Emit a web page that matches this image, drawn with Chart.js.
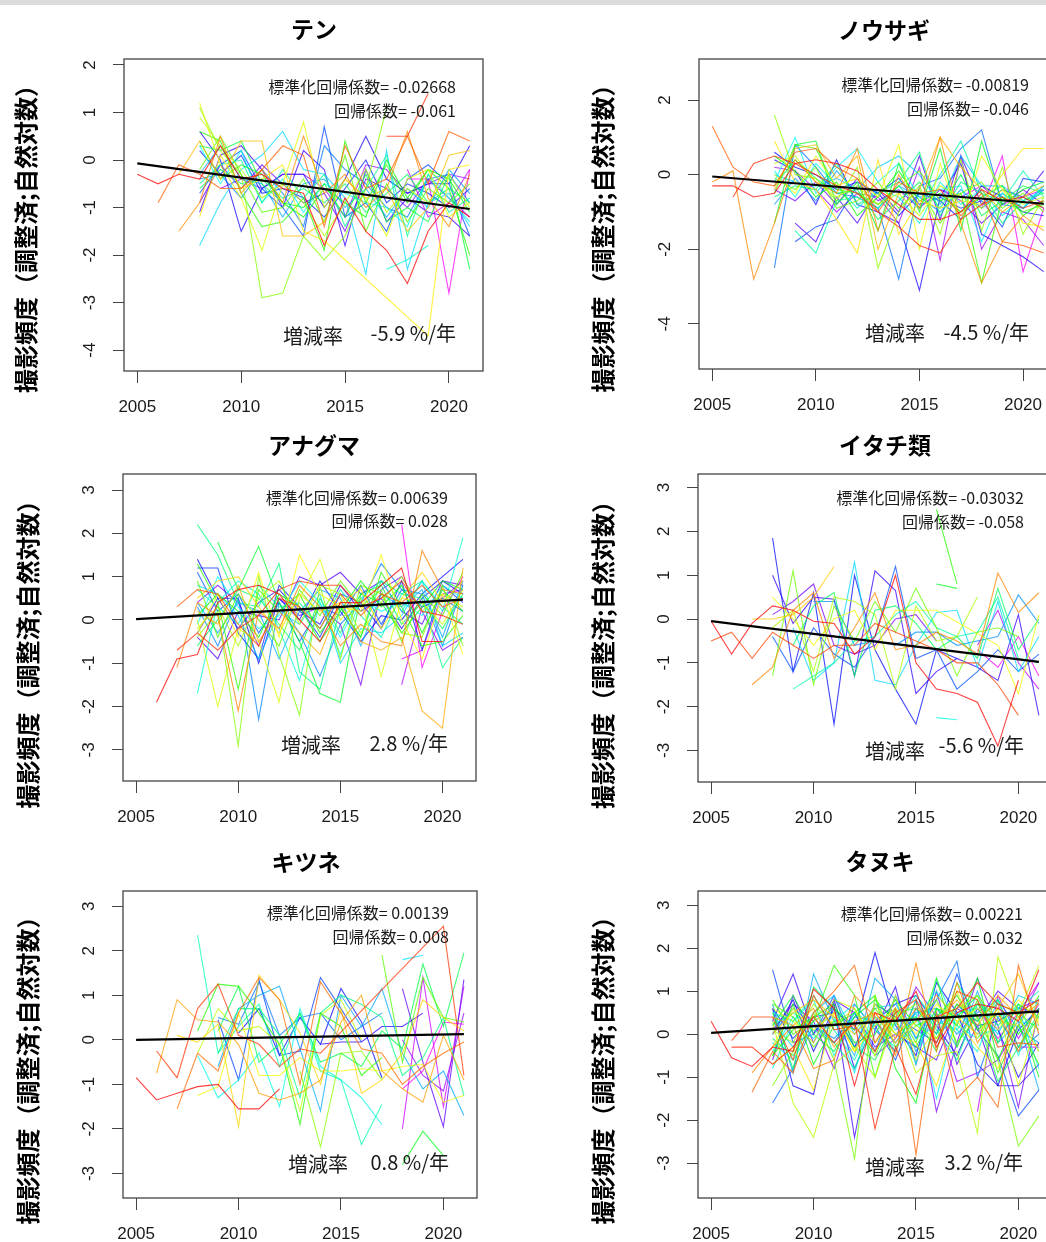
<!DOCTYPE html>
<html><head><meta charset="utf-8">
<script src="https://cdn.jsdelivr.net/npm/chart.js@4.4.1/dist/chart.umd.min.js"></script>
<style>
html,body{margin:0;padding:0;width:1046px;height:1242px;overflow:hidden;background:#fff;}
#bar{position:absolute;left:0;top:0;width:1046px;height:5px;background:#dcdcdc;}
canvas{position:absolute;}
</style></head><body>
<div id="bar"></div>
<canvas id="c0"></canvas><canvas id="c1"></canvas><canvas id="c2"></canvas>
<canvas id="c3"></canvas><canvas id="c4"></canvas><canvas id="c5"></canvas>
<script>
const N = null;
const years = [2005,2006,2007,2008,2009,2010,2011,2012,2013,2014,2015,2016,2017,2018,2019,2020,2021];
const xTicks = [2005,2010,2015,2020];
const titles = ['テン','ノウサギ','アナグマ','イタチ類','キツネ','タヌキ'];
const yLabel = '撮影頻度（調整済;自然対数）';
const yTicksTen = [-4,-3,-2,-1,0,1,2];
const yTicksUsagi = [-4,-2,0,2];
const yTicksOther = [-3,-2,-1,0,1,2,3];
const stdCoefs = ['-0.02668','-0.00819','0.00639','-0.03032','0.00139','0.00221'];
const coefs = ['-0.061','-0.046','0.028','-0.058','0.008','0.032'];
const rates = ['-5.9','-4.5','2.8','-5.6','0.8','3.2'];
// regression line values at 2005 and 2021
const trendTen = [-0.07,-1.03];
const trendUsagi = [-0.05,-0.78];
const trendAnaguma = [0.02,0.47];
const trendItachi = [-0.05,-0.98];
const trendKitsune = [0.0,0.13];
const trendTanuki = [0.03,0.53];

const seriesTen = [
 [-0.3,-0.5,-0.3,-0.4,0.3,-0.4,-0.3,-0.6,-0.7,-1.8,-0.8,-1.5,-1.9,-2.6,-1.5,-0.9,-1.2],
 [N,N,N,N,N,N,N,N,N,N,N,N,0.5,0.5,1.4,N,N],
 [N,-0.9,-0.1,-0.3,-0.6,-0.6,-0.2,0.3,0.1,-1.4,0.3,-0.6,-0.4,0.5,-0.5,0.6,0.4],
 [N,N,-1.5,-0.9,0.5,-0.7,-0.2,-0.9,0.5,-0.7,-0.3,-1.0,-0.6,0.6,-0.8,-1.4,-0.3],
 [N,N,-0.3,0.4,-0.4,0.4,0.4,-1.6,-1.6,-1.3,-0.4,-0.8,-0.6,-1.5,-1.0,0.1,0.2],
 [N,N,N,-1.2,0.1,-0.6,-0.4,-0.1,-1.5,-1.7,N,N,N,N,-3.7,-0.2,-0.1],
 [N,N,N,1.2,-0.1,-0.8,-1.9,-0.5,0.8,-1.0,-0.4,-0.8,-1.6,-0.4,-0.2,-1.2,-0.9],
 [N,N,N,0.9,0.3,-0.2,-0.8,-0.5,-0.9,-1.6,-0.9,-0.2,-1.1,-0.6,-0.9,-0.3,-1.0],
 [N,N,N,1.1,0.2,-0.3,-2.9,-2.8,-1.6,-2.1,-1.6,-0.6,1.1,N,N,N,N],
 [N,N,N,-0.2,0.5,-0.3,-1.1,-1.0,-0.4,-1.3,0.1,-1.5,-0.5,-1.3,-0.6,-0.9,-0.5],
 [N,N,N,0.6,0.4,-0.7,-1.4,-1.3,-0.8,-1.9,0.4,-0.9,-0.1,-0.9,-0.2,-0.6,-2.0],
 [N,N,N,0.4,-0.4,-0.1,-0.3,-0.9,-1.2,-0.6,-0.9,-1.2,0.0,-0.8,-0.2,-0.4,-1.1],
 [N,N,N,0.3,0.2,0.4,-0.5,-0.9,-1.0,-0.5,-1.2,-0.3,-1.3,-1.0,-1.3,-0.3,-2.3],
 [N,N,N,-0.6,-0.2,-0.5,-0.4,-0.8,-0.6,-0.9,-0.5,-1.1,-0.7,-0.3,-0.9,-0.6,-0.9],
 [N,N,N,-0.5,-0.1,0.0,-0.9,-0.2,-0.8,-0.3,-1.4,-0.6,0.1,-1.6,-0.3,-1.1,-0.8],
 [N,N,N,N,N,N,N,N,N,N,N,N,-2.3,-2.1,-1.8,N,N],
 [N,N,N,0.3,-0.5,0.2,-0.9,-0.4,-1.1,-0.5,-0.7,-0.9,-1.0,-1.4,-0.3,-0.8,-1.3],
 [N,N,N,-1.8,-0.9,-0.2,0.1,0.6,-0.2,-0.3,-0.8,-2.4,0.2,-2.3,-0.9,-0.7,-1.4],
 [N,N,N,-0.3,0.3,-0.4,-0.5,-1.2,-0.5,-0.4,-1.0,-0.6,-1.2,-0.6,-1.0,-0.2,-0.7],
 [N,N,N,-0.4,-0.3,-0.8,-0.2,-0.7,-1.4,0.3,-0.2,-0.5,-1.0,-1.2,-0.4,-0.3,-0.9],
 [N,N,N,-0.7,-0.1,0.2,-0.6,-1.0,-1.6,0.7,-1.2,-0.9,-1.5,-0.4,-0.1,-0.5,-1.6],
 [N,N,N,0.2,-0.3,0.1,-0.7,-0.6,-0.8,-1.2,-0.6,0.0,-0.9,-0.5,-0.7,-1.0,-0.6],
 [N,N,N,0.6,0.0,-1.5,-0.6,-0.3,-0.3,-1.0,-0.4,0.5,-0.4,-0.7,-0.5,-0.5,0.3],
 [N,N,N,-1.1,0.1,0.3,-0.2,-1.0,0.2,-0.2,-1.8,-0.2,-1.3,-0.8,-1.1,-1.2,-1.6],
 [N,N,N,-0.9,-0.1,-0.6,-0.1,-0.5,-0.9,-0.7,-1.5,-0.4,-0.6,-1.0,-0.4,-0.8,-1.2],
 [N,N,N,N,-0.6,-0.4,-0.6,-0.3,-0.3,-0.6,-1.2,-0.1,-0.2,-0.7,-0.5,-0.3,-0.4],
 [N,N,N,N,N,N,N,N,N,N,N,N,N,-0.2,-1.2,-0.9,-0.2],
 [N,N,N,N,N,N,N,N,N,N,N,N,N,-0.4,-0.4,-2.8,-0.2]
];
const seriesUsagi = [
 [-0.3,-0.3,-0.6,-0.5,0.3,0.4,0.3,0.1,-0.4,-0.8,-1.2,-1.2,-1.0,-0.4,-0.7,-0.6,-0.9],
 [N,-0.6,0.3,0.5,0.3,0.0,-0.3,-0.5,-1.0,-1.4,-1.9,-2.1,-1.2,-0.8,-0.6,-0.9,-0.7],
 [1.3,0.2,-0.2,-0.3,0.6,0.7,0.2,-0.1,-1.0,-0.2,-0.5,-0.4,-1.1,-0.5,-1.8,-1.9,-2.1],
 [-0.2,0.1,-2.8,-1.3,0.4,-0.2,-0.5,0.7,-1.5,0.0,-0.9,1.0,-1.3,-2.9,-1.8,-1.1,-1.5],
 [N,N,N,-0.4,0.7,0.8,-0.1,0.5,-2.0,-0.5,-0.4,1.0,0.2,-0.4,-1.0,-0.6,-0.3],
 [N,N,N,0.9,-0.2,-0.4,-1.2,-2.1,0.4,-1.6,-0.7,-0.9,-0.7,-0.8,0.0,0.7,0.7],
 [N,N,N,0.0,-0.5,0.5,-0.3,-0.1,-0.6,0.8,-2.0,0.3,-1.3,0.5,-0.4,-1.3,-1.4],
 [N,N,N,0.3,0.5,-0.2,-0.6,-0.3,-0.8,-0.5,-1.1,-0.3,-0.6,-0.9,-0.4,-0.8,-0.6],
 [N,N,N,1.6,0.0,-0.1,-0.7,0.2,-2.5,-1.0,-0.3,-1.6,0.4,-1.5,0.2,-1.6,-0.6],
 [N,N,N,-0.1,-0.4,0.2,-0.9,-0.7,-0.2,-0.9,-0.4,-1.3,-0.5,-0.2,-0.9,-0.5,-1.0],
 [N,N,N,-0.5,0.8,0.7,-0.4,-0.5,-0.8,-0.3,0.1,-0.7,-0.5,-2.9,-0.6,-1.0,-0.8],
 [N,N,N,0.5,0.1,-0.6,-0.2,-1.1,-0.6,0.1,-0.7,-0.5,-1.0,-0.6,-0.3,-1.1,-0.7],
 [N,N,N,-1.3,0.8,0.9,-0.8,-0.2,-1.5,0.3,-1.0,0.7,-1.5,0.9,-0.8,-0.4,-0.2],
 [N,N,N,-0.3,0.4,-0.1,-0.5,-0.4,-1.2,-0.7,-0.2,-0.9,0.0,-1.1,-0.7,-0.3,-0.5],
 [N,N,N,-0.6,-0.3,-0.4,0.3,-0.8,-0.5,-0.2,0.6,-1.1,-0.2,-0.5,-1.3,-0.7,-0.5],
 [N,N,N,N,-1.5,-2.1,-0.7,-0.6,-0.9,-0.3,-0.9,0.0,0.9,-0.5,-0.7,0.1,-0.6],
 [N,N,N,0.1,-0.6,0.3,-0.3,-0.9,-0.4,-0.6,-1.3,-0.2,-0.8,-0.4,-1.1,-0.6,-0.9],
 [N,N,N,-0.2,1.0,-0.5,0.2,0.7,-0.2,0.3,-0.6,-0.4,-0.3,-1.8,-0.5,-0.9,-0.3],
 [N,N,N,0.0,-0.2,-0.3,-0.1,-0.4,0.2,0.5,0.0,-0.8,0.5,-0.3,-0.3,-0.7,-0.4],
 [N,N,N,-0.8,-0.1,-0.7,0.1,-0.5,-0.9,-0.3,-0.6,-1.0,-0.4,-0.9,-0.5,-0.9,-0.3],
 [N,N,N,-2.5,0.8,0.2,-0.5,-0.6,-0.9,-2.8,-0.3,-0.1,0.7,1.2,-0.8,-0.9,-0.4],
 [N,N,N,N,-1.8,-1.4,-1.2,-0.3,-0.5,-0.1,-0.8,-0.6,-0.9,-0.7,-1.4,-0.1,-0.2],
 [N,N,N,0.6,0.2,0.0,-0.4,-0.2,-0.5,-1.1,-0.5,-0.7,-1.2,-0.3,-0.6,-1.0,-1.1],
 [N,N,N,0.4,0.1,-0.8,0.4,-0.8,-1.0,-1.3,-3.1,-0.6,0.3,-1.6,-1.9,-2.2,-2.6],
 [N,N,N,N,-1.3,-1.8,-0.6,-1.3,-0.4,-1.0,0.5,-1.2,0.5,-0.8,-0.4,-0.6,0.1],
 [N,N,N,-0.4,-0.7,-0.2,-0.8,-0.1,-0.7,-0.4,-0.9,-0.4,-0.7,-1.3,-0.8,-0.4,-0.8],
 [N,N,N,0.2,0.1,-0.4,-1.0,-0.5,-0.6,-1.3,0.2,-2.3,0.5,-2.0,-1.0,-1.2,-1.9],
 [N,N,N,N,N,N,N,N,N,N,N,-0.4,-0.6,-0.3,-0.8,-0.6,-0.4],
 [N,N,N,N,N,N,N,N,N,N,N,N,N,-0.9,0.5,-2.6,-0.9]
];
const seriesAnaguma = [
 [N,-1.9,-0.9,-0.8,0.4,0.7,0.8,0.6,0.0,-0.5,0.4,0.4,0.8,1.2,-0.5,-0.5,N],
 [N,N,-0.7,-0.3,-0.7,-0.2,0.1,0.7,0.9,0.8,0.8,0.3,0.5,0.9,0.2,0.1,-0.1],
 [N,N,0.3,0.7,0.6,-0.1,-0.6,0.5,0.3,-0.2,0.6,0.1,0.6,0.4,0.8,0.3,0.5],
 [N,N,-1.1,0.4,0.1,-2.1,0.2,-0.2,0.8,0.3,-0.6,-0.1,-0.5,-0.6,1.6,0.7,0.6],
 [N,N,N,0.2,-0.1,0.8,-0.5,0.2,-0.3,-0.8,0.4,-0.5,-0.7,-0.4,-2.1,-2.5,1.2],
 [N,N,N,0.5,0.9,1.0,0.3,-0.3,0.6,0.2,0.4,0.7,-0.2,0.5,1.1,0.4,0.9],
 [N,N,N,-0.3,0.6,-0.4,1.1,-0.4,1.5,0.6,0.3,0.2,1.5,0.0,-0.9,0.6,-0.8],
 [N,N,N,0.0,-2.0,-0.2,-0.5,-1.9,0.5,1.4,0.0,0.5,-1.3,0.5,0.4,-0.1,0.7],
 [N,N,N,-0.2,0.3,-0.6,0.5,0.9,-0.1,0.8,0.6,-0.3,0.4,1.0,0.2,0.6,0.3],
 [N,N,N,-0.4,0.2,-2.9,1.0,-0.8,-2.2,0.8,-0.9,0.8,0.6,-0.3,-0.4,0.8,-0.6],
 [N,N,N,0.9,-0.4,0.6,0.0,-0.6,0.7,0.1,0.9,0.3,0.7,-0.5,0.6,0.1,1.1],
 [N,N,N,1.3,0.4,-1.6,0.7,0.2,0.6,-0.3,0.3,-0.4,1.1,0.3,-0.6,-0.5,0.1],
 [N,N,N,0.1,0.6,0.2,-0.4,0.6,0.3,-0.5,0.2,0.9,0.3,0.8,-0.3,0.7,0.2],
 [N,N,N,N,1.8,0.7,1.7,0.4,-0.5,-1.7,-1.9,0.6,0.4,-0.3,0.3,0.9,0.7],
 [N,N,N,-0.6,0.0,0.7,0.5,-0.1,-0.7,0.5,-0.3,0.6,0.8,-0.1,0.4,-0.2,0.6],
 [N,N,N,2.2,1.5,0.4,0.3,1.3,-1.2,-1.6,0.3,-0.4,0.9,0.6,0.5,-1.1,-0.4],
 [N,N,N,0.7,0.3,-0.1,0.8,0.3,0.4,-0.2,0.7,0.1,-0.4,0.6,0.9,0.3,-0.1],
 [N,N,N,-1.7,0.4,0.9,0.6,-0.2,-1.4,0.4,-0.8,0.5,0.9,0.2,0.9,0.2,1.9],
 [N,N,N,-0.1,1.0,0.3,-0.2,0.1,0.9,0.4,-0.4,0.5,0.2,0.4,0.1,0.8,0.5],
 [N,N,N,0.8,0.6,0.1,-0.9,0.2,-0.1,0.6,-1.0,-0.2,-0.3,0.1,0.9,-0.6,-0.3],
 [N,N,N,0.4,-0.3,0.4,0.2,-0.9,0.2,0.7,0.5,-0.6,0.6,0.3,0.7,-0.4,0.9],
 [N,N,N,0.3,-0.6,0.5,-2.3,0.4,-0.3,-1.3,-0.1,0.4,1.3,0.7,0.6,-0.6,0.8],
 [N,N,N,1.1,0.2,0.6,-0.3,0.4,-0.5,0.3,0.1,0.8,-0.1,0.7,0.3,0.5,0.2],
 [N,N,N,1.2,1.2,-0.3,-0.9,0.8,0.3,-0.4,0.6,0.4,-0.2,0.9,-0.7,0.8,0.4],
 [N,N,N,1.4,0.5,0.5,-1.0,0.5,0.0,0.9,0.2,-0.5,0.1,0.0,0.6,1.0,1.4],
 [N,N,N,-0.3,0.5,-0.2,0.4,0.7,0.2,-0.1,0.8,0.2,0.5,-0.2,0.5,0.9,0.6],
 [N,N,N,-0.4,-0.9,0.2,0.1,0.0,1.0,0.8,1.1,0.6,0.9,0.2,-0.1,0.9,0.8],
 [N,N,N,0.4,0.8,0.4,-0.6,0.5,0.1,0.3,-0.1,-1.5,0.7,1.0,0.2,-0.7,-0.4],
 [N,N,N,N,N,N,N,N,N,N,N,N,N,-1.5,0.3,0.5,0.9],
 [N,N,N,N,N,N,N,N,N,N,N,N,N,-0.9,-0.7,0.6,0.7],
 [N,N,N,N,N,N,N,N,N,N,N,N,N,2.2,-1.1,0.2,1.0]
];
const seriesItachi = [
 [-0.05,-0.8,-0.1,0.3,0.2,-0.05,-0.1,-0.8,-0.4,1.0,-1.0,-1.6,-1.7,-1.9,-2.9,-1.4,N],
 [-0.5,-0.3,-0.9,-0.3,-0.6,-0.9,-0.6,-0.6,-0.1,-0.3,-0.5,-0.7,-1.0,-1.0,-1.5,-2.2,N],
 [N,N,-1.5,-1.1,0.2,0.6,-0.9,-0.2,0.6,-0.7,-0.6,-0.3,-0.5,-0.8,1.05,0.15,0.6],
 [N,N,0.0,0.0,0.1,0.5,1.2,N,N,N,N,N,N,N,N,N,N],
 [N,N,N,0.5,0.0,-0.6,0.0,0.2,-0.7,0.2,0.2,0.2,N,N,-0.6,-1.7,0.1],
 [N,N,N,-0.2,0.2,-1.2,0.5,0.4,0.1,-1.6,0.3,-0.5,-0.4,0.5,N,N,N],
 [N,N,N,-1.3,1.1,-1.5,0.3,-0.5,0.4,-0.3,0.7,-0.2,-1.3,-0.3,-0.2,-0.4,N],
 [N,N,N,N,N,N,N,N,N,N,N,2.5,0.8,N,N,N,N],
 [N,N,N,N,N,N,N,N,N,N,N,0.8,0.7,N,N,N,N],
 [N,N,N,N,-0.6,0.3,0.6,-1.3,0.2,0.3,-0.1,-0.7,-0.4,-0.9,0.7,-0.7,0.0],
 [N,N,N,N,-1.6,-1.3,-1.0,-0.5,-0.4,0.1,0.4,-0.2,-0.4,-0.3,0.5,-0.9,-1.0],
 [N,N,N,N,N,N,N,N,N,N,N,-2.25,-2.3,N,N,N,N],
 [N,N,N,N,-0.2,-1.4,-1.0,1.3,-1.4,-1.5,-0.6,0.15,0.2,-1.1,0.4,-1.2,-0.4],
 [N,N,N,N,N,0.4,0.4,-0.6,-0.5,-0.6,-0.3,-0.3,-0.6,N,-0.4,0.55,-0.1],
 [N,N,N,-0.4,-1.2,-0.2,-0.8,-1.1,-0.4,1.2,-0.9,-0.7,-1.6,-1.2,-0.7,-1.2,-0.8],
 [N,N,N,1.85,-1.2,0.6,-2.4,1.0,-0.7,-1.6,-2.4,-0.7,-0.9,N,N,N,N],
 [N,N,N,1.0,-0.1,0.5,0.45,-1.3,1.1,0.65,-1.7,-1.2,-0.9,-1.1,-1.4,0.1,-2.2],
 [N,N,N,0.1,0.4,0.8,-0.6,-0.8,-0.6,0.0,0.1,-0.5,N,N,N,N,N],
 [N,N,N,N,N,N,N,N,N,N,N,N,N,-0.6,0.2,-1.0,-1.6],
 [N,N,N,N,N,N,N,N,N,N,N,N,N,-0.7,-1.1,-0.4,-1.3]
];
const seriesKitsune = [
 [-0.85,-1.35,-1.2,-1.05,-1.0,-1.55,-1.55,-1.1,N,N,N,N,N,N,N,N,N],
 [N,-0.25,-0.85,0.7,1.25,0.1,-0.1,-0.6,-0.2,-0.3,N,N,N,N,N,2.55,-0.8],
 [N,N,-1.55,-0.3,-0.7,0.6,1.4,0.9,-1.0,1.3,0.6,-0.2,-0.3,-1.0,-0.6,-0.3,-0.05],
 [N,-0.75,0.9,0.45,0.4,-0.1,-1.2,-1.35,-1.2,-0.9,0.4,1.0,-0.7,-1.1,-1.4,0.1,-0.9],
 [N,N,0.1,-0.05,0.35,-1.95,1.45,0.9,0.15,-1.0,0.7,-1.2,-0.9,-0.3,0.9,0.5,0.2],
 [N,N,N,-1.25,-1.05,0.6,-0.8,-0.8,-0.4,-0.7,-0.7,-0.65,-0.7,-0.6,-0.55,-1.4,-1.25],
 [N,N,N,-0.3,0.7,0.2,0.3,-0.1,-1.6,0.55,0.9,0.0,N,N,N,N,N],
 [N,N,N,N,N,N,N,N,-0.7,-2.4,-0.3,-0.25,-0.9,N,N,N,N],
 [N,N,N,N,N,N,N,N,N,N,N,N,1.9,-0.5,1.4,0.5,0.4],
 [N,N,N,0.2,1.25,1.2,0.6,-0.1,-1.9,0.6,0.3,-0.8,-0.4,N,N,N,N],
 [N,N,N,N,N,N,N,N,N,N,N,N,N,-2.8,-2.05,-2.6,N],
 [N,N,N,N,0.2,1.2,-0.5,-0.1,0.6,-0.5,-0.3,-0.6,0.2,-0.2,1.7,0.3,1.95],
 [N,N,N,N,-0.3,0.7,0.7,0.1,-1.3,0.6,1.0,0.8,0.5,-0.8,-0.4,0.5,-1.25],
 [N,N,N,2.35,-0.3,0.3,0.8,-0.6,0.6,-0.7,-0.9,-2.35,-1.45,N,N,N,N],
 [N,N,N,-0.35,-1.3,-0.9,-0.3,-1.5,0.7,-0.6,-0.9,-1.3,-1.9,N,N,N,N],
 [N,N,N,N,N,N,N,N,N,N,N,N,N,1.8,1.9,N,N],
 [N,N,N,N,-0.6,0.7,1.0,1.2,-0.2,-1.6,1.0,0.3,1.15,-0.3,-1.1,-0.7,-1.7],
 [N,N,N,N,0.5,0.35,1.3,0.1,0.5,0.6,0.0,0.3,0.6,N,N,N,N],
 [N,N,N,N,0.45,-0.9,1.35,-0.35,-0.25,1.4,0.7,-0.05,N,N,N,N,N],
 [N,N,N,N,N,0.15,0.7,-0.35,0.5,-0.1,1.15,0.4,-0.85,N,N,N,N],
 [N,N,N,N,N,N,N,N,N,-0.1,-0.05,-0.05,0.3,0.3,0.6,N,N],
 [N,N,N,N,N,N,N,N,N,N,N,N,N,1.15,-0.5,-1.95,1.35],
 [N,N,N,N,N,N,N,N,N,N,N,N,N,0.0,-0.8,-1.15,0.6],
 [N,N,N,N,N,N,N,N,N,N,N,N,N,-2.0,1.4,-1.5,1.2],
 [N,N,N,N,N,N,N,N,N,N,N,N,N,-1.1,-0.7,0.4,0.35]
];
const seriesTanuki = [
 [0.3,-0.55,-0.75,-0.3,-0.4,1.05,0.6,-1.2,0.5,0.3,1.0,-0.3,0.5,0.7,0.6,0.3,1.5],
 [N,-0.3,-0.3,-0.7,-0.3,0.4,-0.2,0.3,-2.2,-0.3,-1.4,0.4,0.6,1.2,0.7,0.5,0.8],
 [N,-0.15,0.4,0.4,-0.6,0.9,0.1,0.2,-0.4,0.5,0.8,-0.2,1.0,0.8,-0.3,-0.2,-0.25],
 [N,N,-1.35,-0.4,-0.9,0.5,1.0,1.6,-0.2,0.6,-2.8,0.5,-1.5,-1.0,-1.7,1.6,0.0],
 [N,N,-0.9,-0.3,0.2,-0.8,-0.6,0.9,0.4,-0.5,1.65,-0.4,1.2,-0.2,0.5,-0.4,0.8],
 [N,N,N,0.4,0.2,0.6,-0.3,0.3,0.5,-0.1,0.6,0.3,0.8,0.2,0.9,0.4,0.7],
 [N,N,N,0.0,0.5,0.8,0.4,0.0,0.5,-0.2,0.3,0.9,0.4,0.0,0.6,1.4,0.2],
 [N,N,N,-0.7,-0.3,-1.3,0.5,-0.4,0.7,0.0,-0.2,-1.2,0.3,-0.3,-0.8,0.4,-0.4],
 [N,N,N,-0.3,0.6,0.1,0.5,-0.4,0.2,0.6,0.0,0.7,0.3,0.6,0.1,0.8,0.3],
 [N,N,N,0.6,0.3,-0.2,0.8,0.6,-0.5,0.9,-0.6,0.2,1.0,-0.1,0.6,-1.2,0.5],
 [N,N,N,0.3,-1.6,-2.4,-0.7,-0.3,-1.0,0.4,-0.9,-0.5,-0.4,-2.3,1.8,0.5,1.6],
 [N,N,N,0.1,-0.2,0.7,0.2,0.6,-0.2,0.4,0.7,-0.1,0.6,0.9,0.3,0.2,0.9],
 [N,N,N,-1.2,-0.4,0.5,-0.6,-2.9,0.9,-0.3,0.2,-0.1,0.7,0.4,-0.6,-2.6,-1.9],
 [N,N,N,0.7,0.4,-0.3,0.3,0.1,0.6,0.0,0.3,0.8,-0.2,0.4,0.7,0.5,0.1],
 [N,N,N,0.8,0.0,0.3,1.6,0.9,-1.0,0.6,-0.2,1.3,-0.3,0.8,-0.9,0.2,-0.7],
 [N,N,N,-0.5,0.1,0.4,0.7,-0.2,0.0,0.8,0.2,0.4,0.9,0.1,0.5,0.0,0.6],
 [N,N,N,-0.5,0.7,-0.7,0.2,0.5,0.9,-0.8,-1.6,0.6,0.2,1.3,-0.6,0.5,-1.0],
 [N,N,N,0.2,0.9,0.0,-0.4,0.4,0.8,0.3,-0.3,0.6,0.4,0.9,-0.2,0.7,0.4],
 [N,N,N,0.5,-0.8,1.1,0.6,-0.3,-0.6,0.3,0.4,-0.4,1.2,0.4,-1.1,-0.3,0.4],
 [N,N,N,-0.1,-0.5,0.3,0.6,0.2,-0.5,0.5,0.6,0.0,0.7,0.3,0.8,-0.3,0.5],
 [N,N,N,0.2,0.5,0.1,-0.2,-0.8,0.3,-0.4,0.8,0.1,-0.6,0.7,0.2,0.7,-0.4],
 [N,N,N,0.5,0.3,0.9,0.1,-0.6,0.4,0.2,0.9,0.3,0.1,0.7,0.4,0.6,1.0],
 [N,N,N,-0.8,0.3,0.8,-0.5,0.5,0.2,0.6,-0.7,1.3,0.1,-0.4,0.8,-0.5,0.9],
 [N,N,N,-0.4,0.4,-0.1,0.3,0.7,0.1,-0.3,0.4,1.0,0.2,-0.1,0.6,0.3,0.2],
 [N,N,N,-0.2,-0.6,0.2,0.4,-0.9,0.7,0.1,0.5,-1.5,0.5,0.0,0.1,0.6,-0.8],
 [N,N,N,0.3,-0.3,0.5,0.9,0.0,0.6,0.7,-0.1,0.2,0.5,0.6,0.0,0.9,0.7],
 [N,N,N,0.7,-0.9,1.4,0.3,-0.5,1.3,0.8,-0.4,0.5,-0.3,1.0,-0.2,0.3,-1.3],
 [N,N,N,0.0,0.6,0.2,-0.1,0.4,0.3,-0.2,0.5,0.6,0.0,0.5,0.8,0.1,-0.2],
 [N,N,N,-1.6,-0.8,0.2,-0.2,0.5,-0.4,0.9,-0.1,0.8,1.7,-1.0,0.4,-0.4,0.0],
 [N,N,N,1.5,-0.2,0.0,0.9,-0.3,0.2,-0.6,0.6,0.0,1.4,0.1,-0.5,-1.9,-1.3],
 [N,N,N,0.6,-0.1,0.4,0.5,-0.3,0.7,0.4,0.1,-0.2,0.7,0.2,0.3,0.6,0.5],
 [N,N,N,0.0,0.8,-0.4,0.6,0.1,1.9,0.2,-0.5,1.2,0.5,-0.7,-1.2,0.1,0.6],
 [N,N,N,0.6,-1.2,-1.4,0.8,-0.8,0.3,0.7,0.9,0.2,-0.5,0.6,0.1,-1.0,-0.2],
 [N,N,N,0.3,1.4,0.0,0.7,-2.4,0.1,1.1,-0.7,1.0,-0.7,0.2,-1.2,-1.2,-0.7],
 [N,N,N,-0.6,0.9,-0.2,0.8,0.5,-0.3,0.0,-0.3,-0.6,0.6,0.3,1.0,0.6,0.8],
 [N,N,N,0.1,0.7,0.3,-0.8,0.7,0.1,-0.4,0.8,-1.8,-0.2,1.3,0.2,-1.7,0.6],
 [N,N,N,N,N,N,N,N,-0.5,-0.1,1.1,0.4,-1.1,-0.9,-0.6,0.2,1.2],
 [N,N,N,N,N,N,N,N,N,N,N,N,N,-1.8,0.9,-0.1,0.7],
 [N,N,N,N,N,N,N,N,N,N,N,N,N,0.6,-0.1,0.5,1.2],
 [N,N,N,N,N,N,N,N,N,N,N,N,N,0.4,0.7,-0.3,-0.3]
];

// ---- layout / style (pixels) ----
const panels = [
 {series:seriesTen, trend:trendTen, yTicks:yTicksTen, ymin:-4.44, ymax:2.126,
  left:0, top:5, w:628, h:415, ca:{l:124,r:483,t:54,b:366},
  tx:314, ty:24, yLabX:26, yLabOff:18,
  ann:{dx:27,y1:28,y2:52,y3:37.5,lx:159,ly:3}},
 {series:seriesUsagi, trend:trendUsagi, yTicks:yTicksUsagi, ymin:-5.21, ymax:3.10,
  left:560, top:5, w:648, h:415, ca:{l:139,r:497,t:54,b:364},
  tx:324, ty:25, yLabX:43, yLabOff:18.5,
  ann:{dx:28,y1:26,y2:50,y3:36.5,lx:166,ly:1}},
 {series:seriesAnaguma, trend:trendAnaguma, yTicks:yTicksOther, ymin:-3.72, ymax:3.37,
  left:0, top:420, w:628, h:412, ca:{l:123,r:476,t:54,b:361},
  tx:314, ty:25, yLabX:28, yLabOff:21,
  ann:{dx:28,y1:24,y2:47,y3:38,lx:158,ly:2}},
 {series:seriesItachi, trend:trendItachi, yTicks:yTicksOther, ymin:-3.72, ymax:3.31,
  left:560, top:420, w:650, h:412, ca:{l:138,r:492,t:54,b:362},
  tx:325, ty:25, yLabX:43, yLabOff:21,
  ann:{dx:28,y1:24,y2:48,y3:36.5,lx:167,ly:6}},
 {series:seriesKitsune, trend:trendKitsune, yTicks:yTicksOther, ymin:-3.55, ymax:3.34,
  left:0, top:832, w:612, h:410, ca:{l:123,r:477,t:59,b:366},
  tx:306, ty:30, yLabX:28, yLabOff:20,
  ann:{dx:28,y1:22,y2:46,y3:36,lx:165,ly:2}},
 {series:seriesTanuki, trend:trendTanuki, yTicks:yTicksOther, ymin:-3.81, ymax:3.33,
  left:560, top:832, w:640, h:410, ca:{l:138,r:492,t:59,b:366},
  tx:320, ty:29, yLabX:43, yLabOff:20,
  ann:{dx:29,y1:23,y2:47,y3:36,lx:167,ly:5}}
];

const TICK_FONT = {family:"'Liberation Sans', Arial, sans-serif", size:17};
const JP = "'Noto Sans CJK JP', sans-serif";

const boxText = {
  id: 'boxText',
  afterDatasetsDraw(chart, args, o) {
    const ctx = chart.ctx, a = chart.chartArea;
    ctx.save();
    ctx.strokeStyle = '#444'; ctx.lineWidth = 1.3;
    ctx.strokeRect(a.left, a.top, a.right - a.left, a.bottom - a.top);
    ctx.fillStyle = '#1a1a1a';
    ctx.textBaseline = 'middle';
    ctx.textAlign = 'right';
    ctx.font = '16px ' + JP;
    ctx.fillText('標準化回帰係数= ' + o.std, a.right - o.dx, a.top + o.y1);
    ctx.fillText('回帰係数= ' + o.coef, a.right - o.dx, a.top + o.y2);
    ctx.font = '20px ' + JP;
    ctx.fillText(o.rate + ' %/年', a.right - o.dx, a.bottom - o.y3);
    ctx.textAlign = 'left';
    ctx.fillText('増減率', a.left + o.lx, a.bottom - o.y3 + o.ly);
    // panel title
    ctx.fillStyle = '#000';
    ctx.textAlign = 'center';
    ctx.font = 'bold 23px ' + JP;
    ctx.fillText(o.title, o.tx, o.ty);
    // y-axis label
    ctx.save();
    ctx.translate(o.yLabX, (a.top + a.bottom) / 2 + o.yLabOff);
    ctx.rotate(-Math.PI / 2);
    ctx.font = 'bold 24px ' + JP;
    ctx.fillText(o.yLabel, 0, 0);
    ctx.restore();
    ctx.restore();
  }
};

function rainbow(i, n) {
  const h = n > 1 ? i * 300 / (n - 1) : 0;
  return 'hsla(' + h.toFixed(1) + ',100%,50%,0.75)';
}

panels.forEach((P, k) => {
  const cv = document.getElementById('c' + k);
  cv.width = P.w; cv.height = P.h;
  cv.style.left = P.left + 'px'; cv.style.top = P.top + 'px';
  cv.style.width = P.w + 'px'; cv.style.height = P.h + 'px';
  const n = P.series.length;
  const datasets = [{
    data: [{x: years[0], y: P.trend[0]}, {x: years[years.length - 1], y: P.trend[1]}],
    borderColor: '#000', borderWidth: 2.2, pointRadius: 0
  }];
  P.series.forEach((s, i) => {
    datasets.push({
      data: years.map((yr, j) => ({x: yr, y: s[j]})),
      borderColor: rainbow(i, n), borderWidth: 1.1, pointRadius: 0
    });
  });
  new Chart(cv, {
    type: 'line',
    data: {datasets},
    options: {
      responsive: false, animation: false, devicePixelRatio: 1,
      spanGaps: true,
      layout: {padding: {left: 0, top: P.ca.t, right: P.w - P.ca.r, bottom: 0}},
      plugins: {
        legend: {display: false}, tooltip: {enabled: false}, title: {display: false},
        boxText: {std: stdCoefs[k], coef: coefs[k], rate: rates[k], title: titles[k], yLabel: yLabel,
          tx: P.tx, ty: P.ty, yLabX: P.yLabX, yLabOff: P.yLabOff, ...P.ann}
      },
      scales: {
        x: {
          type: 'linear', min: 2004.36, max: 2021.64,
          afterBuildTicks: s => { s.ticks = xTicks.map(v => ({value: v})); },
          afterFit: s => { s.height = P.h - P.ca.b; },
          grid: {drawOnChartArea: false, drawTicks: true, tickLength: 12, color: '#444', lineWidth: 1},
          border: {display: false},
          ticks: {font: TICK_FONT, color: '#1a1a1a', padding: 14, maxRotation: 0, callback: v => String(v)}
        },
        y: {
          type: 'linear', min: P.ymin, max: P.ymax,
          afterBuildTicks: s => { s.ticks = P.yTicks.map(v => ({value: v})); },
          afterFit: s => { s.width = P.ca.l; },
          grid: {drawOnChartArea: false, drawTicks: true, tickLength: 11, color: '#444', lineWidth: 1},
          border: {display: false},
          ticks: {font: TICK_FONT, color: '#1a1a1a', padding: 15, minRotation: 90, maxRotation: 90,
            crossAlign: 'center', callback: v => String(v)}
        }
      }
    },
    plugins: [boxText]
  });
});
</script>
</body></html>
